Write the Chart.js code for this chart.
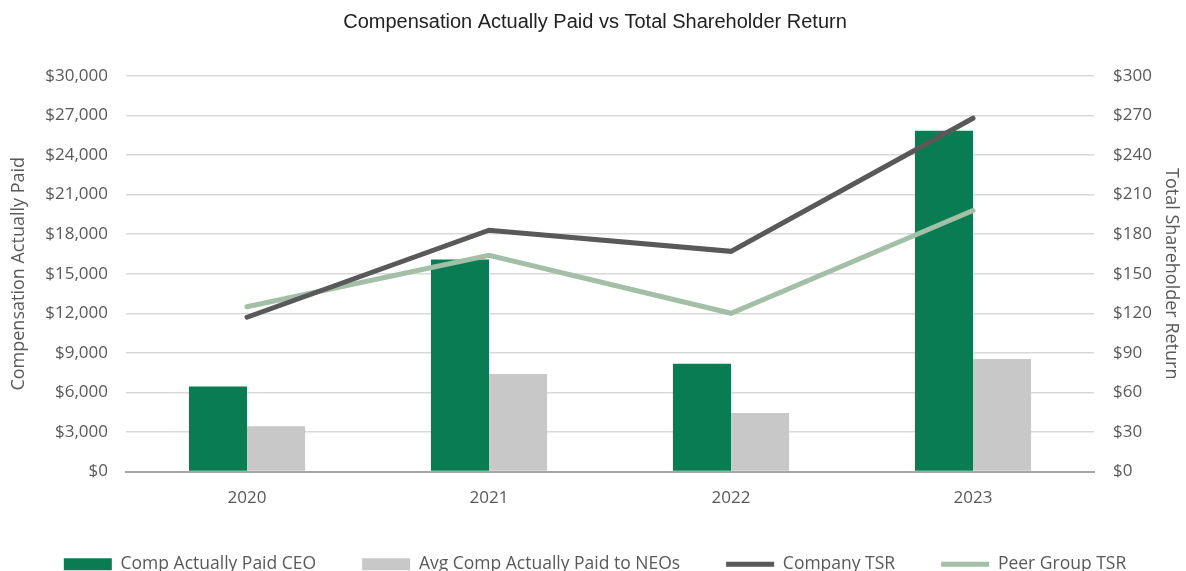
<!DOCTYPE html>
<html>
<head>
<meta charset="utf-8">
<script src="https://cdn.jsdelivr.net/npm/chart.js@4/dist/chart.umd.min.js"></script>
<style>
  html, body { margin: 0; padding: 0; background: #fff; overflow: hidden; }
  #wrap { width: 1186px; height: 583px; }
</style>
</head>
<body>
<div id="wrap"><canvas id="myChart"></canvas></div>
<script>
const years = ['2020', '2021', '2022', '2023'];
const ceoPay = [6450, 16080, 8180, 25850];
const neoPay = [3430, 7390, 4430, 8530];
const companyTsr = [117, 183, 167, 268];
const peerTsr = [125, 164, 120, 198];

const grey = '#595959';
const tickFont = { family: 'Open Sans', size: 17 };

const ctx = document.getElementById('myChart').getContext('2d');
const myChart = new Chart(ctx, {
    data: {
        labels: years,
        datasets: [
            {
                label: 'Comp Actually Paid CEO',
                data: ceoPay,
                type: 'bar',
                backgroundColor: '#0A7C53',
                borderWidth: 0,
                categoryPercentage: 0.48,
                barPercentage: 1.0,
                pointStyle: 'rect',
                yAxisID: 'y',
                order: 2
            },
            {
                label: 'Avg Comp Actually Paid to NEOs',
                data: neoPay,
                type: 'bar',
                backgroundColor: '#C8C8C8',
                borderWidth: 0,
                categoryPercentage: 0.48,
                barPercentage: 1.0,
                pointStyle: 'rect',
                yAxisID: 'y',
                order: 2
            },
            {
                label: 'Company TSR',
                data: companyTsr,
                type: 'line',
                borderColor: '#595959',
                backgroundColor: '#595959',
                borderWidth: 5,
                borderCapStyle: 'round',
                pointRadius: 0,
                pointStyle: 'line',
                tension: 0,
                yAxisID: 'y1',
                order: 0
            },
            {
                label: 'Peer Group TSR',
                data: peerTsr,
                type: 'line',
                borderColor: '#A3BFA8',
                backgroundColor: '#A3BFA8',
                borderWidth: 5,
                borderCapStyle: 'round',
                pointRadius: 0,
                pointStyle: 'line',
                tension: 0,
                yAxisID: 'y1',
                order: 1
            }
        ]
    },
    options: {
        responsive: true,
        maintainAspectRatio: false,
        animation: false,
        layout: { padding: { left: 8, right: 4, top: 10, bottom: 0 } },
        scales: {
            x: {
                afterFit: s => { s.height = 38; },
                grid: { display: false, drawTicks: false },
                border: { color: '#A6A6A6', width: 2 },
                ticks: { color: grey, font: { family: 'Open Sans', size: 17 }, padding: 16 }
            },
            y: {
                position: 'left',
                min: 0,
                max: 30000,
                afterFit: s => { s.width = 118; },
                grid: { color: '#D9D9D9', lineWidth: 1.5, drawTicks: false },
                border: { display: false },
                ticks: {
                    stepSize: 3000,
                    padding: 18,
                    color: grey,
                    font: tickFont,
                    callback: v => '$' + v.toLocaleString('en-US')
                },
                title: {
                    display: true,
                    text: 'Compensation Actually Paid',
                    color: grey,
                    font: { family: 'Open Sans', size: 18 },
                    padding: 0
                }
            },
            y1: {
                position: 'right',
                min: 0,
                max: 300,
                afterFit: s => { s.width = 88; },
                grid: { drawOnChartArea: false, drawTicks: false },
                border: { display: false },
                ticks: {
                    stepSize: 30,
                    padding: 19,
                    color: grey,
                    font: tickFont,
                    callback: v => '$' + v
                },
                title: {
                    display: true,
                    text: 'Total Shareholder Return',
                    color: grey,
                    font: { family: 'Open Sans', size: 18 },
                    padding: 0
                }
            }
        },
        plugins: {
            title: {
                display: true,
                text: 'Compensation Actually Paid vs Total Shareholder Return',
                color: '#222',
                font: { family: 'Liberation Sans', size: 20, weight: 'normal' },
                padding: { top: 0, bottom: 42 }
            },
            legend: {
                position: 'bottom',
                labels: {
                    usePointStyle: true,
                    pointStyleWidth: 48,
                    boxHeight: 12,
                    padding: 46,
                    color: grey,
                    font: { family: 'Open Sans', size: 17.5 },
                    sort: (a, b) => a.datasetIndex - b.datasetIndex
                }
            },
            tooltip: { enabled: false }
        }
    }
});
</script>
</body>
</html>
